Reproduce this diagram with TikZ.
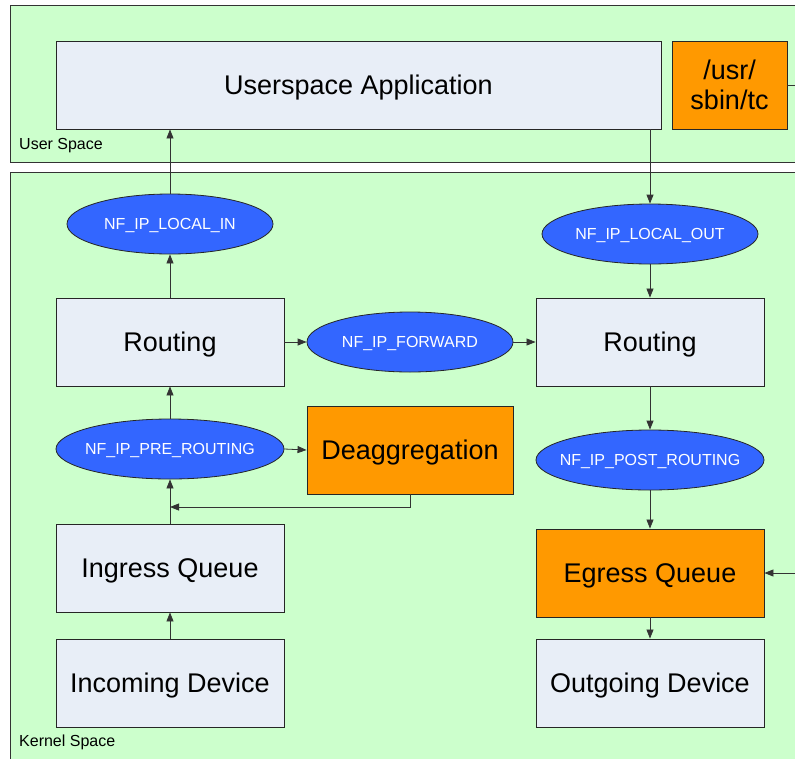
\documentclass[tikz,border=0pt]{standalone}
\usepackage{fontspec}
\setmainfont{Liberation Sans}
\usetikzlibrary{shapes.geometric,arrows.meta}
\definecolor{areagreen}{HTML}{CCFFCC}
\definecolor{boxfill}{HTML}{E8EEF7}
\definecolor{orng}{HTML}{FF9900}
\definecolor{hookblue}{HTML}{3366FF}
\definecolor{edge}{HTML}{333333}
\newcommand\hooktext[1]{\makebox[0pt]{#1}}
\tikzset{
  area/.style={draw=edge, fill=areagreen, line width=0.9pt},
  arealabel/.style={anchor=west, font=\fontsize{16}{18}\selectfont, inner sep=0pt},
  stage/.style={draw=black!85, fill=boxfill, line width=0.9pt, minimum width=228pt, minimum height=88pt, inner sep=0pt, text depth=0pt, font=\fontsize{27}{30}\selectfont, align=center},
  ostage/.style={stage, fill=orng},
  hook/.style={ellipse, draw=black!85, fill=hookblue, line width=0.8pt, minimum width=206pt, minimum height=60pt, inner sep=0pt, text depth=0pt, text=white, font=\fontsize{16}{18}\selectfont},
  arr/.style={-{Triangle[length=9pt,width=7pt]}, line width=0.8pt, draw=black!80},
  plain/.style={line width=0.8pt, draw=black!80}
}
\begin{document}
\begin{tikzpicture}[x=1pt,y=-1pt]
\clip (0,0) rectangle (795,758);
\fill[white] (0,0) rectangle (795,758);
% areas
\draw[area] (10,5) rectangle (805,162);
\draw[area] (10,172) rectangle (805,775);
\node[arealabel] (uslabel) at (19,146) {User Space};
\node[arealabel] (kslabel) at (19,742) {Kernel Space};
% user space
\node[stage, minimum width=605pt] (app) at (358.5,85) {Userspace Application};
\node[ostage, minimum width=115pt] (tc) at (729.5,85) {/usr/\\sbin/tc};
% kernel
\node[hook] (lin) at (170,224) {\hooktext{NF\_IP\_LOCAL\_IN}};
\node[hook, minimum width=216pt] (lout) at (650,234) {\hooktext{NF\_IP\_LOCAL\_OUT}};
\node[stage] (rl) at (170,342) {Routing};
\node[hook] (fwd) at (410,342) {\hooktext{NF\_IP\_FORWARD}};
\node[stage] (rr) at (650,342) {Routing};
\node[hook, minimum width=228pt] (pre) at (170,449) {\hooktext{NF\_IP\_PRE\_ROUTING}};
\node[ostage, minimum width=206pt] (deag) at (410,450) {Deaggregation};
\node[hook, minimum width=228pt] (post) at (650,460) {\hooktext{NF\_IP\_POST\_ROUTING}};
\node[stage] (ing) at (170,568) {Ingress Queue};
\node[ostage] (eg) at (650,573) {Egress Queue};
\node[stage] (inc) at (170,683) {Incoming Device};
\node[stage] (out) at (650,683) {Outgoing Device};
% connectors
\draw[arr] (rl.north) -- (lin.south);
\draw[arr] (lin.north) -- (lin.north |- app.south);
\draw[arr] (app.south -| lout.north) -- (lout.north);
\draw[arr] (lout.south) -- (rr.north);
\draw[arr] (rl.east) -- (fwd.west);
\draw[arr] (fwd.east) -- (rr.west);
\draw[arr] (rr.south) -- (post.north);
\draw[arr] (post.south) -- (eg.north);
\draw[arr] (eg.south) -- (out.north);
\draw[arr] (inc.north) -- (ing.south);
\draw[arr] (ing.north) -- (pre.south);
\draw[arr] (pre.north) -- (rl.south);
\draw[arr] (pre.east) -- (deag.west);
\coordinate (fb) at (170,507);
\draw[arr] (deag.south) |- (fb);
\coordinate (tcout) at (805,85);
\draw[plain] (tc.east) -- (tcout);
\coordinate (egin) at (805,573);
\draw[arr] (egin) -- (eg.east);
\end{tikzpicture}
\end{document}
